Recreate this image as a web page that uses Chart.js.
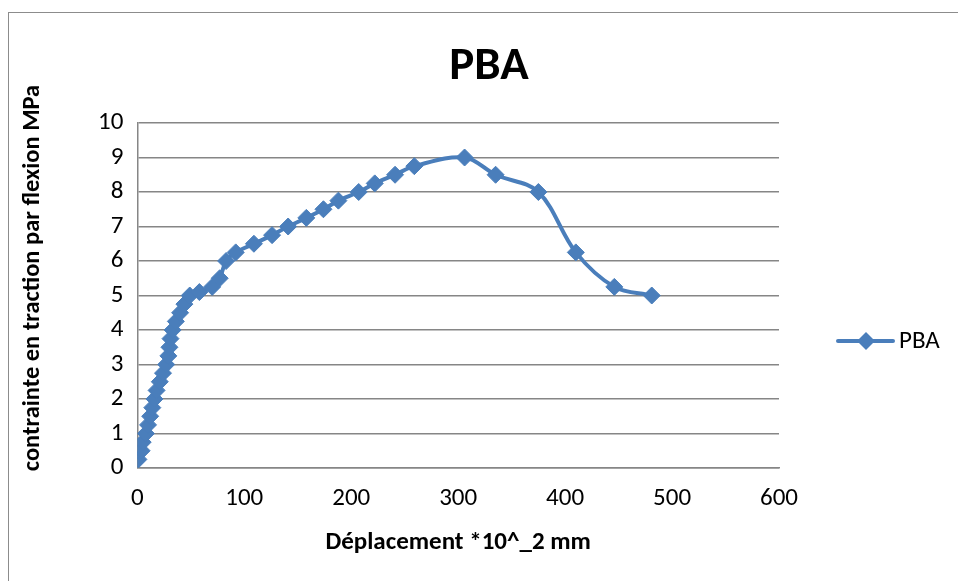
<!DOCTYPE html>
<html>
<head>
<meta charset="utf-8">
<script src="https://cdn.jsdelivr.net/npm/chart.js@4"></script>
<style>
  html, body { margin: 0; padding: 0; background: #fff; overflow: hidden; }
  #frame { position: absolute; left: 8px; top: 12px; width: 1200px; height: 800px; border: 1px solid #8c8c8c; }
  #wrap { position: absolute; left: 0; top: 0; width: 958px; height: 581px; }
</style>
</head>
<body>
<div id="frame"></div>
<div id="wrap"><canvas id="chart"></canvas></div>
<script>
// déplacement (*10^-2 mm) et contrainte (MPa)
const deplacement = [1, 4, 5, 8, 10, 12, 14, 16, 18, 21, 24, 27, 29, 30, 31, 33, 36, 40, 44,
    49, 58, 70, 77, 83, 92, 109, 126, 141, 158, 174, 188, 207, 222, 241, 259, 306, 335, 375, 410, 446, 481];
const contrainte = [0.25, 0.5, 0.75, 1, 1.25, 1.5, 1.75, 2, 2.25, 2.5, 2.75, 3, 3.25, 3.5, 3.75, 4, 4.25, 4.5, 4.75,
    5, 5.1, 5.25, 5.5, 6, 6.25, 6.5, 6.75, 7, 7.25, 7.5, 7.75, 8, 8.25, 8.5, 8.75, 9, 8.5, 8, 6.25, 5.25, 5];
const xTicks = [0, 100, 200, 300, 400, 500, 600];
const yTicks = [0, 1, 2, 3, 4, 5, 6, 7, 8, 9, 10];

const BLUE = '#4a7ebb';
const FONT = 'Calibri, Lato, sans-serif';

const points = deplacement.map((x, i) => ({ x, y: contrainte[i] }));

// titre, titre vertical et légende à droite (trait + losange)
const decorPlugin = {
    id: 'decor',
    afterDraw(chart) {
        const ctx = chart.ctx;
        ctx.save();
        ctx.fillStyle = '#000';
        ctx.font = 'bold 47px ' + FONT;
        ctx.textAlign = 'center';
        ctx.textBaseline = 'middle';
        ctx.fillText('PBA', 489, 67);

        ctx.save();
        ctx.translate(33, 278);
        ctx.rotate(-Math.PI / 2);
        ctx.font = 'bold 24.5px ' + FONT;
        ctx.fillText('contrainte en traction par flexion MPa', 0, 0);
        ctx.restore();

        const y = 341;
        ctx.strokeStyle = BLUE;
        ctx.lineWidth = 4;
        ctx.lineCap = 'round';
        ctx.beginPath();
        ctx.moveTo(838, y);
        ctx.lineTo(893, y);
        ctx.stroke();
        ctx.fillStyle = BLUE;
        ctx.beginPath();
        ctx.moveTo(866, y - 9);
        ctx.lineTo(875, y);
        ctx.lineTo(866, y + 9);
        ctx.lineTo(857, y);
        ctx.closePath();
        ctx.fill();
        ctx.fillStyle = '#000';
        ctx.font = '25px ' + FONT;
        ctx.textAlign = 'left';
        ctx.fillText('PBA', 899, y + 1);
        ctx.restore();
    }
};

new Chart(document.getElementById('chart'), {
    type: 'scatter',
    data: {
        datasets: [{
            label: 'PBA',
            data: points,
            showLine: true,
            borderColor: BLUE,
            backgroundColor: BLUE,
            borderWidth: 4,
            tension: 0.35,
            pointStyle: 'rectRot',
            pointRadius: 8.5,
            pointBorderWidth: 1,
            pointBackgroundColor: BLUE,
            pointBorderColor: BLUE,
        }]
    },
    options: {
        responsive: true,
        maintainAspectRatio: false,
        animation: false,
        layout: { padding: { left: 84, right: 179, top: 123, bottom: 26 } },
        plugins: {
            legend: { display: false },
            tooltip: { enabled: false },
            title: { display: false }
        },
        scales: {
            x: {
                type: 'linear',
                min: 0,
                max: 600,
                afterBuildTicks: axis => { axis.ticks = xTicks.map(v => ({ value: v })); },
                grid: { display: false, drawTicks: false },
                border: { display: true, color: '#868686', width: 1.5 },
                ticks: { color: '#000', padding: 16, autoSkip: false, maxRotation: 0, font: { family: FONT, size: 25 } },
                title: {
                    display: true,
                    text: 'Déplacement *10^_2 mm',
                    color: '#000',
                    font: { family: FONT, size: 25, weight: 'bold', lineHeight: 1 },
                    padding: { top: 0, bottom: 0 }
                }
            },
            y: {
                min: 0,
                max: 10,
                afterBuildTicks: axis => { axis.ticks = yTicks.map(v => ({ value: v })); },
                grid: { color: '#868686', lineWidth: 1.5, drawTicks: false },
                border: { display: true, color: '#868686', width: 1.5 },
                ticks: { color: '#000', padding: 14, autoSkip: false, font: { family: FONT, size: 25 } },
                title: { display: false }
            }
        }
    },
    plugins: [decorPlugin]
});
</script>
</body>
</html>
